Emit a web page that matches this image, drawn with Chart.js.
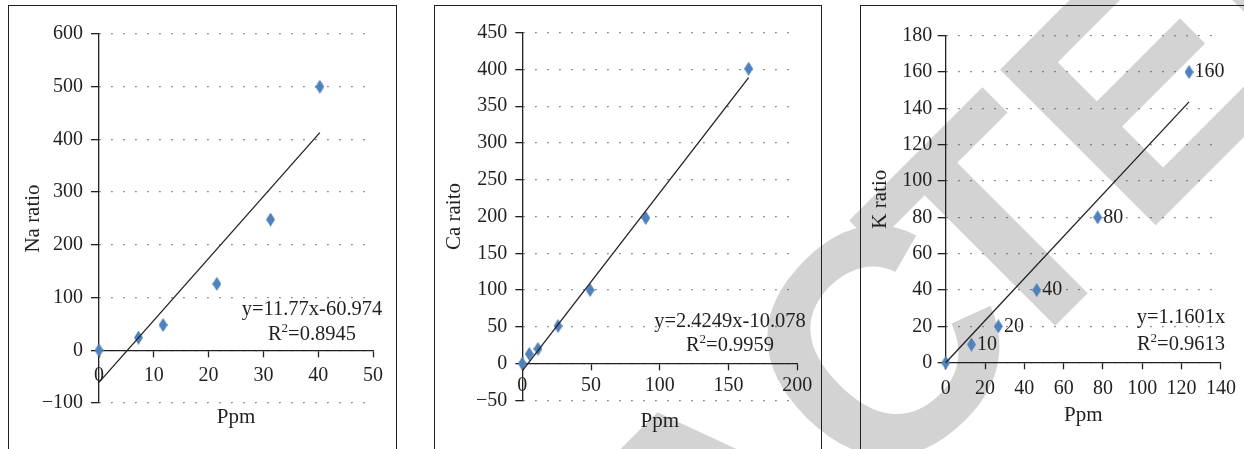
<!DOCTYPE html>
<html>
<head>
<meta charset="utf-8">
<title>Na / Ca / K calibration</title>
<script src="https://cdn.jsdelivr.net/npm/chart.js@4.4.1/dist/chart.umd.min.js"></script>
<style>
    html, body { margin: 0; padding: 0; background: #fff; overflow: hidden; }
    body { width: 1244px; height: 449px; position: relative; }
    #mark { position: absolute; left: 0; top: 0; z-index: 0; }
    .plot { position: absolute; top: 0; height: 500px; z-index: 1; }
    .frame { position: absolute; top: 5px; height: 520px; box-sizing: border-box;
             border: 1.5px solid #231f20; border-bottom: none; z-index: 2; pointer-events: none; }
</style>
</head>
<body>
<canvas id="mark" width="1244" height="449"></canvas>

<div class="plot" style="left:9px;width:386px"><canvas id="naChart"></canvas></div>
<div class="plot" style="left:435px;width:385px"><canvas id="caChart"></canvas></div>
<div class="plot" style="left:861px;width:383px"><canvas id="kChart"></canvas></div>

<div class="frame" style="left:8px;width:389px"></div>
<div class="frame" style="left:434px;width:388px"></div>
<div class="frame" style="left:860px;width:400px"></div>

<script>
// ─── Data: Na ─────────────────────────────────────────────
const naPpm    = [0, 7.2, 11.7, 21.5, 31.3, 40.3];
const naRatio  = [0, 24, 48, 126, 248, 500];
const naFitX   = [0, 40.3];
const naFitY   = [-61, 413];
const naXTicks = [0, 10, 20, 30, 40, 50];
const naYTicks = [-100, 0, 100, 200, 300, 400, 500, 600];
const naEq     = ['y=11.77x-60.974', '=0.8945'];

// ─── Data: Ca ─────────────────────────────────────────────
const caPpm    = [0, 5.1, 11.4, 26, 49.3, 89.8, 164.6];
const caRaito  = [0, 13, 20, 51, 100, 198, 401];
const caFitX   = [0, 164.6];
const caFitY   = [-10, 389];
const caXTicks = [0, 50, 100, 150, 200];
const caYTicks = [-50, 0, 50, 100, 150, 200, 250, 300, 350, 400, 450];
const caEq     = ['y=2.4249x-10.078', '=0.9959'];

// ─── Data: K ──────────────────────────────────────────────
const kPpm     = [0, 13.1, 26.8, 46.3, 77.3, 123.8];
const kRatio   = [0, 10, 20, 40, 80, 160];
const kLabels  = ['', '10', '20', '40', '80', '160'];
const kFitX    = [0, 123.8];
const kFitY    = [0, 143.6];
const kXTicks  = [0, 20, 40, 60, 80, 100, 120, 140];
const kYTicks  = [0, 20, 40, 60, 80, 100, 120, 140, 160, 180];
const kEq      = ['y=1.1601x', '=0.9613'];

// ─── Style ────────────────────────────────────────────────
const ink   = '#231f20';
const dots  = '#5a5a5a';
const blue  = '#4f81bd';
const serif = '"Liberation Serif", "Times New Roman", serif';

Chart.defaults.font.family = serif;
Chart.defaults.color = ink;

// elongated diamond marker
function diamond(w, h, color) {
    const c = document.createElement('canvas');
    c.width = w; c.height = h;
    const g = c.getContext('2d');
    g.fillStyle = color;
    g.beginPath();
    g.moveTo(w / 2, 0); g.lineTo(w, h / 2); g.lineTo(w / 2, h); g.lineTo(0, h / 2);
    g.closePath();
    g.fill();
    return c;
}
const marker = diamond(9, 14, blue);

const pairs = (xs, ys) => xs.map((x, i) => ({ x, y: ys[i] }));
const minus = (v) => (v < 0 ? '\u2212' + (-v) : String(v));

// trendline equation + point labels
const notes = {
    id: 'notes',
    afterDatasetsDraw(chart, args, o) {
        const ctx = chart.ctx;
        ctx.save();
        ctx.fillStyle = ink;
        ctx.textBaseline = 'alphabetic';

        if (o.eq) {
            const big = '20.5px ' + serif;
            ctx.font = big;
            ctx.textAlign = 'center';
            ctx.fillText(o.eq[0], o.cx, o.b1);

            ctx.textAlign = 'left';
            const wR = ctx.measureText('R').width;
            const wRest = ctx.measureText(o.eq[1]).width;
            ctx.font = '13px ' + serif;
            const w2 = ctx.measureText('2').width;
            const x0 = o.cx - (wR + w2 + wRest) / 2;
            ctx.fillText('2', x0 + wR, o.b2 - 8);
            ctx.font = big;
            ctx.fillText('R', x0, o.b2);
            ctx.fillText(o.eq[1], x0 + wR + w2, o.b2);
        }

        if (o.labels) {
            const meta = chart.getDatasetMeta(1);
            ctx.font = '20px ' + serif;
            ctx.textAlign = 'left';
            ctx.textBaseline = 'middle';
            meta.data.forEach((pt, i) => {
                if (o.labels[i]) ctx.fillText(o.labels[i], pt.x + 5.5, pt.y);
            });
        }
        ctx.restore();
    }
};

function makePanel(id, p) {
    const tickFont = { size: 20 };
    const titleFont = { size: 21 };
    return new Chart(document.getElementById(id), {
        type: 'scatter',
        data: {
            datasets: [
                {
                    type: 'line',
                    data: pairs(p.fitX, p.fitY),
                    borderColor: ink,
                    borderWidth: 1.3,
                    pointRadius: 0,
                    tension: 0,
                    fill: false,
                    clip: false,
                },
                {
                    data: pairs(p.x, p.y),
                    pointStyle: marker,
                    pointRadius: 5,
                    pointHoverRadius: 5,
                    clip: false,
                }
            ]
        },
        options: {
            animation: false,
            responsive: true,
            maintainAspectRatio: false,
            events: [],
            layout: { padding: p.pad },
            plugins: {
                legend: { display: false },
                tooltip: { enabled: false },
                notes: p.notes
            },
            scales: {
                x: {
                    type: 'linear',
                    position: { y: 0 },
                    min: p.xTicks[0],
                    max: p.xTicks[p.xTicks.length - 1],
                    afterBuildTicks: (s) => { s.ticks = p.xTicks.map(v => ({ value: v })); },
                    afterFit: (s) => { s.height = p.xh; },
                    grid: {
                        drawOnChartArea: false, drawTicks: true, tickLength: 6,
                        tickColor: ink, tickWidth: 1.3, tickBorderDash: []
                    },
                    border: { display: true, color: ink, width: 1.3 },
                    ticks: {
                        padding: p.xtp, font: tickFont, color: ink,
                        maxRotation: 0, autoSkip: false
                    },
                    title: {
                        display: true, text: 'Ppm', font: titleFont, color: ink,
                        padding: { top: 0, bottom: p.xtt }
                    }
                },
                y: {
                    type: 'linear',
                    position: 'left',
                    min: p.yTicks[0],
                    max: p.yTicks[p.yTicks.length - 1],
                    afterBuildTicks: (s) => { s.ticks = p.yTicks.map(v => ({ value: v })); },
                    afterFit: (s) => { s.width = p.yw; },
                    grid: {
                        color: dots, lineWidth: 1.3, tickLength: p.ytl,
                        tickColor: ink, tickWidth: 1.3, tickBorderDash: []
                    },
                    border: { display: true, color: ink, width: 1.3, dash: [1.3, 10.7] },
                    ticks: { padding: p.ytp, font: tickFont, color: ink, callback: minus },
                    title: {
                        display: true, text: p.yTitle, font: titleFont, color: ink,
                        padding: { top: p.ytt, bottom: 0 }
                    }
                }
            }
        },
        plugins: [notes]
    });
}

// ─── Panels ───────────────────────────────────────────────
makePanel('naChart', {
    x: naPpm, y: naRatio, fitX: naFitX, fitY: naFitY,
    xTicks: naXTicks, yTicks: naYTicks, yTitle: 'Na ratio',
    pad: { left: 0, right: 22, top: 34, bottom: 97 },
    yw: 90, ytl: 8, ytp: 8, ytt: 11.4,
    xh: 85, xtp: 7.7, xtt: 5.7,
    notes: { eq: naEq, cx: 303, b1: 315, b2: 340 }
});

makePanel('caChart', {
    x: caPpm, y: caRaito, fitX: caFitX, fitY: caFitY,
    xTicks: caXTicks, yTicks: caYTicks, yTitle: 'Ca raito',
    pad: { left: 0, right: 22.7, top: 32.7, bottom: 99.7 },
    yw: 87.3, ytl: 7, ytp: 8, ytt: 6.4,
    xh: 85, xtp: 4.6, xtt: 14.2,
    notes: { eq: caEq, cx: 295, b1: 326.7, b2: 350.7 }
});

makePanel('kChart', {
    x: kPpm, y: kRatio, fitX: kFitX, fitY: kFitY,
    xTicks: kXTicks, yTicks: kYTicks, yTitle: 'K ratio',
    pad: { left: 0, right: 21.3, top: 35.7, bottom: 137.3 },
    yw: 84.7, ytl: 8, ytp: 5.4, ytt: 6.4,
    xh: 85, xtp: 8.1, xtt: 19.5,
    notes: { eq: kEq, cx: 320, b1: 323.3, b2: 350, labels: kLabels }
});

// ─── Watermark ────────────────────────────────────────────
const wm = document.getElementById('mark').getContext('2d');
wm.fillStyle = '#d3d3d3';
wm.font = 'bold 320px "Liberation Sans", Arial, sans-serif';
wm.rotate(-Math.PI / 4);
wm.textBaseline = 'alphabetic';
wm.textAlign = 'right';
wm.fillText('RETRAC', 493, 976.5);
wm.textAlign = 'left';
wm.fillText('TED', 441, 976.5);
</script>
</body>
</html>
